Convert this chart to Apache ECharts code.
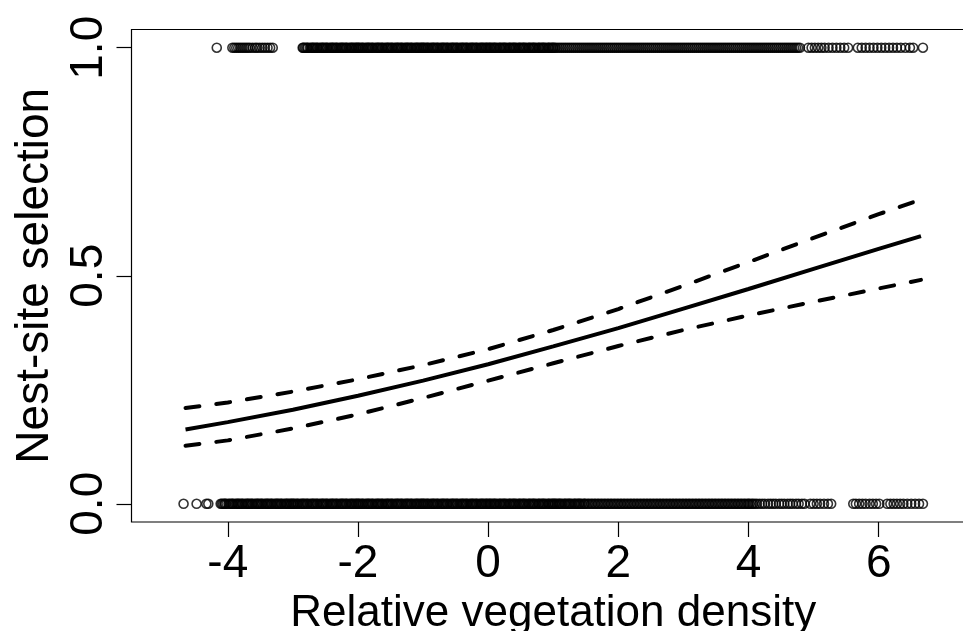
<!DOCTYPE html>
<html>
<head>
<meta charset="utf-8">
<script src="https://cdn.jsdelivr.net/npm/echarts@6/dist/echarts.min.js"></script>
<style>html,body{margin:0;padding:0;background:#fff;}#c{width:963px;height:631px;}</style>
</head>
<body>
<div id="c"></div>
<script>
// Fitted curve and 95% confidence band
var curveX = [-4.65, -4, -3, -2, -1, 0, 1, 2, 3, 4, 5, 6, 6.65];
var fitY   = [0.163, 0.179, 0.206, 0.237, 0.270, 0.306, 0.345, 0.385, 0.428, 0.471, 0.515, 0.559, 0.587];
var upperY = [0.210, 0.222, 0.246, 0.273, 0.304, 0.339, 0.381, 0.427, 0.478, 0.530, 0.583, 0.635, 0.667];
var lowerY = [0.127, 0.139, 0.165, 0.196, 0.232, 0.270, 0.308, 0.346, 0.381, 0.413, 0.443, 0.472, 0.491];

// Observed nest sites (y = 1)
var usedX = [
-4.17,
-3.93,-3.90,-3.87,-3.84,-3.81,-3.78,-3.75,-3.72,-3.69,-3.66,-3.62,-3.58,-3.55,-3.51,-3.47,-3.43,-3.39,-3.35,-3.31,
-2.85,-2.84,-2.82,-2.80,-2.78,-2.77,-2.74,-2.72,-2.70,-2.69,-2.67,-2.65,-2.63,-2.62,-2.59,-2.57,-2.55,-2.54,-2.52,-2.50,-2.48,-2.47,-2.44,-2.42,-2.40,-2.39,-2.37,-2.35,-2.33,-2.32,-2.29,-2.27,-2.25,-2.24,-2.22,-2.20,-2.18,-2.17,-2.14,-2.12,-2.10,-2.09,-2.07,-2.05,-2.03,-2.02,-2.00,
-1.99,-1.97,-1.95,-1.93,-1.92,-1.89,-1.87,-1.85,-1.84,-1.82,-1.80,-1.78,-1.77,-1.74,-1.72,-1.70,-1.69,-1.67,-1.65,-1.63,-1.62,-1.59,-1.57,-1.55,-1.54,-1.52,-1.50,-1.48,-1.47,-1.44,-1.42,-1.40,-1.39,-1.37,-1.35,-1.33,-1.32,-1.29,-1.27,-1.25,-1.24,-1.22,-1.20,-1.18,-1.17,-1.14,-1.12,-1.10,-1.09,-1.07,-1.05,-1.03,-1.02,-1.00,
-0.99,-0.97,-0.95,-0.93,-0.92,-0.89,-0.87,-0.85,-0.84,-0.82,-0.80,-0.78,-0.77,-0.74,-0.72,-0.70,-0.69,-0.67,-0.65,-0.63,-0.62,-0.59,-0.57,-0.55,-0.54,-0.52,-0.50,-0.48,-0.47,-0.44,-0.42,-0.40,-0.39,-0.37,-0.35,-0.33,-0.32,-0.29,-0.27,-0.25,-0.24,-0.22,-0.20,-0.18,-0.17,-0.14,-0.12,-0.10,-0.09,-0.07,-0.05,-0.03,-0.02,
0.00,0.02,0.03,0.05,0.07,0.09,0.10,0.12,0.14,0.17,0.18,0.20,0.22,0.24,0.25,0.27,0.29,0.32,0.33,0.35,0.37,0.39,0.40,0.42,0.44,0.47,0.48,0.50,0.52,0.54,0.55,0.57,0.59,0.62,0.63,0.65,0.67,0.69,0.70,0.72,0.74,0.77,0.78,0.80,0.82,0.84,0.85,0.87,0.89,0.92,0.93,0.95,0.97,0.99,
1.00,1.02,1.04,
1.07,1.10,1.13,1.16,1.19,1.22,1.25,1.28,1.31,1.34,1.37,1.40,1.43,1.46,1.49,1.52,1.55,1.58,1.61,1.64,1.67,1.70,1.73,1.76,1.79,1.82,1.85,1.88,1.91,1.94,1.97,
2.00,2.03,2.06,2.09,2.12,2.15,2.18,2.21,2.24,2.27,2.30,2.33,2.36,2.39,2.42,2.45,2.48,2.51,2.54,2.57,2.60,2.63,2.66,2.69,2.72,2.75,2.78,2.81,2.84,2.87,2.90,2.93,2.96,2.99,
3.02,3.05,3.08,3.11,3.14,3.17,3.20,3.23,3.26,3.29,3.32,3.35,3.38,3.41,3.44,3.47,3.50,3.53,3.56,3.59,3.62,3.65,3.68,3.71,3.74,3.77,3.80,3.83,3.86,3.89,3.92,3.95,3.98,
4.01,4.04,4.07,4.10,4.13,4.16,4.19,4.22,4.25,4.28,4.31,4.34,4.37,4.40,4.43,4.46,4.49,4.52,4.55,4.58,4.61,4.64,4.67,4.70,4.73,4.76,4.79,
4.92,4.97,5.02,5.07,5.12,5.17,5.23,5.29,5.35,5.41,5.47,5.53,
5.68,5.74,5.80,5.86,5.92,5.98,6.04,6.10,6.16,6.22,6.28,6.34,6.41,6.48,6.53,6.68
];

// Available (unused) sites (y = 0)
var availX = [
-4.68,-4.48,-4.33,-4.30,
-4.11,-4.09,-4.07,-4.05,-4.04,-4.02,
-3.99,-3.97,-3.95,-3.93,-3.92,-3.89,-3.87,-3.85,-3.84,-3.82,-3.80,-3.78,-3.77,-3.74,-3.72,-3.70,-3.69,-3.67,-3.65,-3.63,-3.62,-3.59,-3.57,-3.55,-3.54,-3.52,-3.50,-3.48,-3.47,-3.44,-3.42,-3.40,-3.39,-3.37,-3.35,-3.33,-3.32,-3.29,-3.27,-3.25,-3.24,-3.22,-3.20,-3.18,-3.17,-3.14,-3.12,-3.10,-3.09,-3.07,-3.05,-3.03,-3.02,-3.00,
-2.99,-2.97,-2.95,-2.93,-2.92,-2.89,-2.87,-2.85,-2.84,-2.82,-2.80,-2.78,-2.77,-2.74,-2.72,-2.70,-2.69,-2.67,-2.65,-2.63,-2.62,-2.59,-2.57,-2.55,-2.54,-2.52,-2.50,-2.48,-2.47,-2.44,-2.42,-2.40,-2.39,-2.37,-2.35,-2.33,-2.32,-2.29,-2.27,-2.25,-2.24,-2.22,-2.20,-2.18,-2.17,-2.14,-2.12,-2.10,-2.09,-2.07,-2.05,-2.03,-2.02,-2.00,
-1.99,-1.97,-1.95,-1.93,-1.92,-1.89,-1.87,-1.85,-1.84,-1.82,-1.80,-1.78,-1.77,-1.74,-1.72,-1.70,-1.69,-1.67,-1.65,-1.63,-1.62,-1.59,-1.57,-1.55,-1.54,-1.52,-1.50,-1.48,-1.47,-1.44,-1.42,-1.40,-1.39,-1.37,-1.35,-1.33,-1.32,-1.29,-1.27,-1.25,-1.24,-1.22,-1.20,-1.18,-1.17,-1.14,-1.12,-1.10,-1.09,-1.07,-1.05,-1.03,-1.02,-1.00,
-0.99,-0.97,-0.95,-0.93,-0.92,-0.89,-0.87,-0.85,-0.84,-0.82,-0.80,-0.78,-0.77,-0.74,-0.72,-0.70,-0.69,-0.67,-0.65,-0.63,-0.62,-0.59,-0.57,-0.55,-0.54,-0.52,-0.50,-0.48,-0.47,-0.44,-0.42,-0.40,-0.39,-0.37,-0.35,-0.33,-0.32,-0.29,-0.27,-0.25,-0.24,-0.22,-0.20,-0.18,-0.17,-0.14,-0.12,-0.10,-0.09,-0.07,-0.05,-0.03,-0.02,
0.00,0.02,0.03,0.05,0.07,0.09,0.10,0.12,0.14,0.17,0.18,0.20,0.22,0.24,0.25,0.27,0.29,0.32,0.33,0.35,0.37,0.39,0.40,0.42,0.44,0.47,0.48,0.50,0.52,0.54,0.55,0.57,0.59,0.62,0.63,0.65,0.67,0.69,0.70,0.72,0.74,0.77,0.78,0.80,0.82,0.84,0.85,0.87,0.89,0.92,0.93,0.95,0.97,0.99,
1.00,1.02,1.03,1.05,1.07,1.09,1.10,1.12,1.14,1.17,1.18,1.20,1.22,1.24,1.25,1.27,1.29,1.32,1.33,1.35,1.37,1.39,1.40,1.42,1.44,1.47,1.48,1.50,
1.53,1.55,1.58,1.60,1.63,1.65,1.68,1.70,1.73,1.75,1.78,1.80,1.83,1.85,1.88,1.90,1.93,1.95,1.98,
2.00,2.03,2.05,2.08,2.10,2.13,2.15,2.18,2.20,2.23,2.25,2.28,2.30,2.33,2.35,2.38,2.40,2.43,2.45,2.48,2.50,2.53,2.55,2.58,2.60,2.63,2.65,2.68,2.70,2.73,2.75,2.78,2.80,2.83,2.85,2.88,2.90,2.93,2.95,2.98,
3.00,3.03,3.05,3.08,3.10,3.13,3.15,3.18,3.20,3.23,3.25,3.28,3.30,3.33,3.35,3.38,3.40,3.43,3.45,3.48,3.50,3.53,3.55,3.58,3.60,3.63,3.65,3.68,3.70,3.73,3.75,3.78,3.80,3.83,3.85,3.88,3.90,3.93,3.95,3.98,
4.00,4.02,4.05,4.07,4.10,
4.13,4.17,4.21,4.25,4.30,4.34,4.38,4.42,4.47,4.51,4.55,4.60,4.64,4.68,4.73,4.77,4.82,4.86,
4.95,5.00,5.05,5.10,5.16,5.22,5.27,
5.61,5.65,5.70,5.75,5.80,5.86,5.91,5.96,6.01,
6.13,6.18,6.23,6.28,6.33,6.38,6.44,6.50,6.56,6.62,6.68
];

var xTicks = [-4, -2, 0, 2, 4, 6];
var yTicks = [0, 0.5, 1];
var xTitle = 'Relative vegetation density';
var yTitle = 'Nest-site selection';

function zip(xs, ys) { return xs.map(function (x, i) { return [x, ys[i]]; }); }
function row(xs, y) { return xs.map(function (x) { return [x, y]; }); }

var FONT = 'Liberation Sans, Arial, sans-serif';
var pointStyle = { color: 'rgba(0,0,0,0)', borderColor: '#000', borderWidth: 1.6 };
var chart = echarts.init(document.getElementById('c'), null, { renderer: 'canvas' });
chart.setOption({
  animation: false,
  backgroundColor: '#ffffff',
  grid: { left: 131.5, right: -12, top: 29.5, bottom: 109, show: true, borderColor: '#000', borderWidth: 1.2,
    backgroundColor: 'transparent', containLabel: false, outerBoundsMode: 'none' },
  xAxis: {
    type: 'value', min: -5.48, max: 7.48,
    axisLine: { show: false, onZero: false },
    splitLine: { show: false },
    axisTick: { show: true, length: 15, customValues: xTicks, lineStyle: { color: '#000', width: 1.2 } },
    axisLabel: { customValues: xTicks, color: '#000', fontSize: 46, fontFamily: FONT, margin: 19 },
    name: xTitle, nameLocation: 'middle', nameGap: 57,
    nameTextStyle: { color: '#000', fontSize: 44, fontFamily: FONT }
  },
  yAxis: {
    type: 'value', min: -0.04, max: 1.04,
    axisLine: { show: false, onZero: false },
    splitLine: { show: false },
    axisTick: { show: true, length: 15, customValues: yTicks, lineStyle: { color: '#000', width: 1.2 } },
    axisLabel: { customValues: yTicks, rotate: 90, color: '#000', fontSize: 46, fontFamily: FONT, margin: 19,
      formatter: function (v) { return v.toFixed(1); } },
    name: yTitle, nameLocation: 'middle', nameGap: 72, nameRotate: 90,
    nameTextStyle: { color: '#000', fontSize: 46, fontFamily: FONT }
  },
  series: [
    { type: 'scatter', data: row(usedX, 1), symbol: 'circle', symbolSize: 9, silent: true, itemStyle: pointStyle },
    { type: 'scatter', data: row(availX, 0), symbol: 'circle', symbolSize: 9, silent: true, itemStyle: pointStyle },
    { type: 'line', data: zip(curveX, fitY), showSymbol: false, smooth: false,
      lineStyle: { color: '#000', width: 4 } },
    { type: 'line', data: zip(curveX, upperY), showSymbol: false, smooth: false,
      lineStyle: { color: '#000', width: 4, type: [14, 17], cap: 'round' } },
    { type: 'line', data: zip(curveX, lowerY), showSymbol: false, smooth: false,
      lineStyle: { color: '#000', width: 4, type: [14, 17], cap: 'round' } }
  ]
});
</script>
</body>
</html>
